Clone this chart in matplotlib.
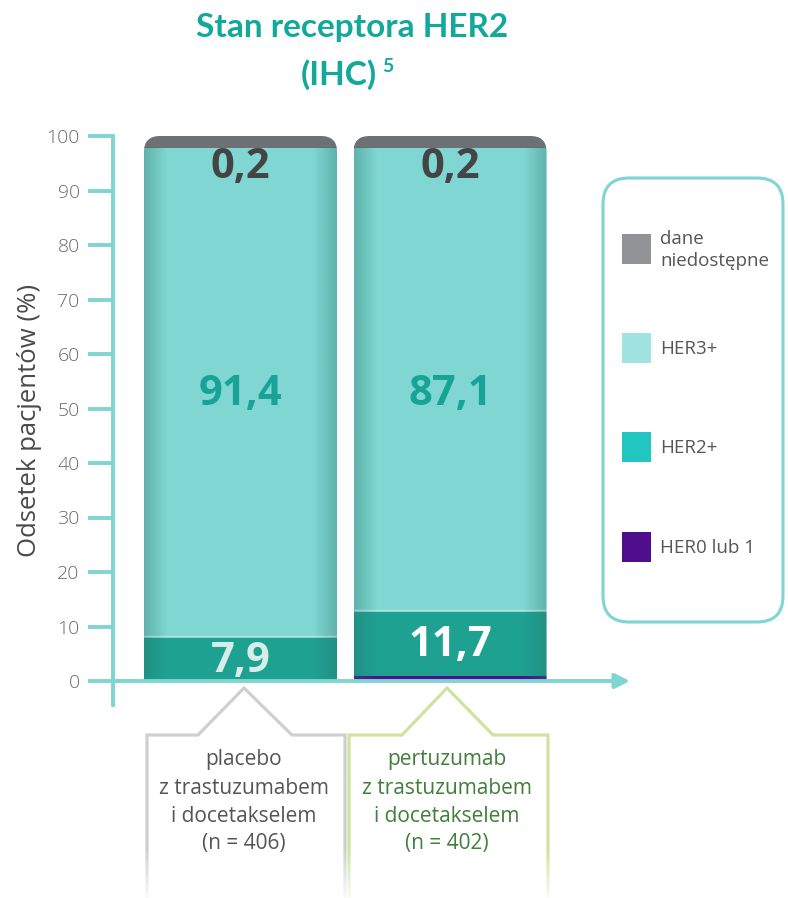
import numpy as np
import matplotlib
matplotlib.use("Agg")
import matplotlib.pyplot as plt
from matplotlib.path import Path
from matplotlib.patches import PathPatch, FancyBboxPatch, Rectangle

# data
groups = ["placebo", "pertuzumab"]
her0 = [0.0, 1.0]          # HER0 lub 1
her2 = [7.9, 11.7]         # HER2+
her3 = [91.4, 87.1]        # HER3+
unavail = [0.2, 0.2]       # dane niedostepne
label_her2 = ["7,9", "11,7"]
label_her3 = ["91,4", "87,1"]
label_unav = ["0,2", "0,2"]
yticks = [0, 10, 20, 30, 40, 50, 60, 70, 80, 90, 100]
legend_names = ["dane\nniedostępne", "HER3+", "HER2+", "HER0 lub 1"]
group_text = [["placebo", "z trastuzumabem", "i docetakselem", "(n = 406)"],
              ["pertuzumab", "z trastuzumabem", "i docetakselem", "(n = 402)"]]

W, H = 788, 898
AX_COL = "#7fd5d2"
C_GRAY = "#6f7073"
C_LIGHT = "#80d6d2"
C_DARK = "#1fa192"
C_PURPLE = "#4f1090"

plt.rcParams["font.family"] = ["Open Sans", "DejaVu Sans"]

fig = plt.figure(figsize=(W / 100, H / 100), dpi=100)

# overlay in pixel coords
ov = fig.add_axes([0, 0, 1, 1])
ov.set_xlim(0, W)
ov.set_ylim(H, 0)
ov.axis("off")

# main axes: y 0 at px 681, 100 at px 136, x=0 at px 240.5, x=1 at px 450
py0, py100 = 681, 136
ppu_y = (py0 - py100) / 100
ymin = -(705 - py0) / ppu_y
ppu_x = 450 - 240.5
xl = (113 - 240.5) / ppu_x
xr = (630 - 240.5) / ppu_x
ax = fig.add_axes([113 / W, 1 - 705 / H, (630 - 113) / W, (705 - 136) / H])
ax.set_xlim(xl, xr)
ax.set_ylim(ymin, 100)
ax.patch.set_alpha(0)
for s in ["top", "right", "bottom"]:
    ax.spines[s].set_visible(False)
ax.spines["left"].set_color(AX_COL)
ax.spines["left"].set_linewidth(2.8)
ax.set_xticks([])
ax.set_yticks(yticks)
ax.tick_params(axis="y", length=18, width=2.8, color=AX_COL, pad=6,
               labelsize=14, labelcolor="#6a6a6a")
for t in ax.get_yticklabels():
    t.set_fontweight("light")
ax.set_ylabel("Odsetek pacjentów (%)", fontsize=18.5, color="#4a4a4a", labelpad=3)

x = np.arange(len(groups))
bw = 193 / ppu_x
rad = 16
rx, ry = rad / ppu_x, rad / ppu_y

for i in range(len(groups)):
    x0, x1 = x[i] - bw / 2, x[i] + bw / 2
    verts = [(x0, 0), (x0, 100 - ry), (x0, 100), (x0 + rx, 100),
             (x1 - rx, 100), (x1, 100), (x1, 100 - ry), (x1, 0), (x0, 0)]
    codes = [Path.MOVETO, Path.LINETO, Path.CURVE3, Path.CURVE3,
             Path.LINETO, Path.CURVE3, Path.CURVE3, Path.LINETO, Path.CLOSEPOLY]
    clip = PathPatch(Path(verts, codes), transform=ax.transData,
                     facecolor="none", edgecolor="none")
    ax.add_patch(clip)

    b0 = her0[i]
    b1 = b0 + her2[i]
    cap = max(unavail[i], 2.2)
    parts = [
        ax.bar(x[i], her0[i], bw, 0, color=C_PURPLE, zorder=3),
        ax.bar(x[i], her2[i], bw, b0, color=C_DARK, zorder=2),
        ax.bar(x[i], her3[i], bw, b1, color=C_LIGHT, zorder=2),
        ax.bar(x[i], cap, bw, 100 - cap, color=C_GRAY, zorder=2),
    ]
    for p in parts:
        for r in p:
            r.set_clip_path(clip)

    # soft shading at the bar edges
    n = 200
    t = np.linspace(0, 1, n)
    a = np.clip(1 - np.minimum(t, 1 - t) / 0.12, 0, 1) * 0.35
    img = np.zeros((1, n, 4))
    img[..., 0], img[..., 1], img[..., 2] = 0.15, 0.45, 0.40
    img[..., 3] = a
    im = ax.imshow(img, extent=(x0, x1, 0, 100 - cap), aspect="auto",
                   zorder=4, interpolation="bilinear")
    im.set_clip_path(clip)
    ax.plot([x0, x1], [b1 + 0.4, b1 + 0.4], color="white", alpha=0.35,
            lw=1, zorder=4)

    ax.text(x[i], 94.2, label_unav[i], ha="center", va="center", fontsize=30,
            fontweight="bold", color="#444444", zorder=6)
    ax.text(x[i], 52.5, label_her3[i], ha="center", va="center", fontsize=30,
            fontweight="bold", color="#17a496", zorder=6)
    ax.text(x[i], b0 + her2[i] / 2 - 0.4, label_her2[i], ha="center", va="center",
            fontsize=30, fontweight="bold",
            color=["#d6ede8", "white"][i], zorder=6)

ax.set_aspect("auto")
ax.set_xlim(xl, xr)
ax.set_ylim(ymin, 100)

# x axis arrow
ax.annotate("", xy=(xr, 0), xytext=(xl, 0), annotation_clip=False,
            arrowprops=dict(arrowstyle="-|>", color=AX_COL, lw=2.8,
                            mutation_scale=22, shrinkA=0, shrinkB=0),
            zorder=5)

# title
tfam = ["Lato", "DejaVu Sans"]
ov.text(352, 28, "Stan receptora HER2", ha="center", va="center",
        fontsize=24, fontweight="bold", color="#12a89a", family=tfam)
ov.text(339, 75, "(IHC)", ha="center", va="center", fontsize=24,
        fontweight="bold", color="#12a89a", family=tfam)
ov.text(382, 67, "5", ha="left", va="center", fontsize=14,
        fontweight="bold", color="#12a89a", family=tfam)

# legend box
ov.add_patch(FancyBboxPatch((603, 178), 180, 444,
                            boxstyle="round,pad=0,rounding_size=26",
                            facecolor="white", edgecolor=AX_COL, lw=2.2))
leg_cols = ["#929397", "#a0e3e1", "#22c6c0", "#4f0f8c"]
leg_y = [249, 348, 447, 547]
for c, yy, nm in zip(leg_cols, leg_y, legend_names):
    ov.add_patch(Rectangle((622, yy - 15), 29, 30, facecolor=c, edgecolor="none"))
    ov.text(660, yy + 1, nm, ha="left", va="center", fontsize=13.5, color="#555555",
            linespacing=1.3)

# group labels under the bars
house_cols = ["#cfcfcf", "#cde3a0"]
text_cols = ["#555555", "#3f7f3a"]
houses = [(147, 345, 198, 244, 292), (349, 548, 402, 447, 493)]
for (l, r, rl, pk, rr), hc, tc, lines in zip(houses, house_cols, text_cols, group_text):
    ov.plot([l, l, rl, pk, rr, r, r], [H, 735, 735, 688, 735, 735, H],
            color=hc, lw=2.3, solid_joinstyle="miter", zorder=2)
    for k, ln in enumerate(lines):
        ov.text(pk, 760 + 28 * k, ln, ha="center", va="center", fontsize=15,
                color=tc, zorder=3)

# fade at the bottom edge
fade = np.ones((60, 1, 4))
fade[..., 3] = np.linspace(0, 0.9, 60)[:, None]
ov.imshow(fade, extent=(0, W, H, H - 50), aspect="auto", zorder=5)
ov.set_xlim(0, W)
ov.set_ylim(H, 0)

fig.savefig("out.png", dpi=100)
